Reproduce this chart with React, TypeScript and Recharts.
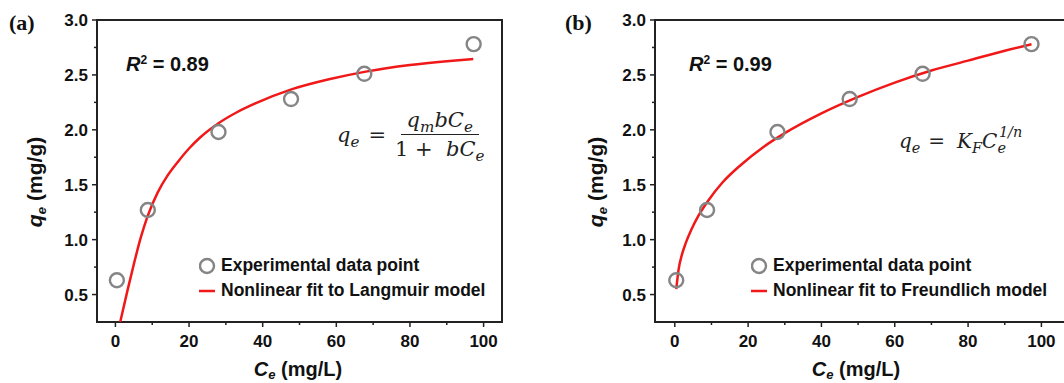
import React from "react";
import {
  ComposedChart,
  Scatter,
  Line,
  XAxis,
  YAxis,
  ReferenceArea,
} from "recharts";

// experimental points (same in both panels)
const ceExp = [0.4, 8.8, 28, 47.7, 67.6, 97.3];
const qeExp = [0.63, 1.27, 1.98, 2.28, 2.51, 2.78];

// fitted curves
const langmuirCe = [1.3, 3.3, 5.1, 6.9, 8.7, 11.5, 14.1, 17, 20, 23, 28, 33, 38, 48, 58, 68, 80, 90, 97.2];
const langmuirQe = [0.25, 0.54, 0.79, 1.02, 1.21, 1.43, 1.58, 1.71, 1.83, 1.93, 2.06, 2.16, 2.24, 2.37, 2.46, 2.53, 2.59, 2.625, 2.645];

const freundlichCe = [0.4, 1, 2, 3, 4.5, 6.5, 9, 13, 18, 24, 30, 40, 50, 60, 70, 80, 90, 97.3];
const freundlichQe = [0.55, 0.72, 0.87, 0.97, 1.09, 1.22, 1.35, 1.52, 1.68, 1.84, 1.97, 2.15, 2.3, 2.43, 2.54, 2.63, 2.72, 2.78];

const xTicks = [0, 10, 20, 30, 40, 50, 60, 70, 80, 90, 100];
const yTicks = [0.5, 0.75, 1, 1.25, 1.5, 1.75, 2, 2.25, 2.5, 2.75, 3];

const expData = ceExp.map((c, i) => ({ C: c, q: qeExp[i] }));
const langData = langmuirCe.map((c, i) => ({ C: c, q: langmuirQe[i] }));
const freData = freundlichCe.map((c, i) => ({ C: c, q: freundlichQe[i] }));

const SANS = '"Liberation Sans", Arial, sans-serif';
const SERIF_MATH = '"DejaVu Serif", "Liberation Serif", serif';
const RED = "#f01818";
const GRAY = "#858585";
const INK = "#111";

const XTick = (props: any) => {
  const { x, y, payload } = props;
  const v = payload.value;
  const major = v % 20 === 0;
  return (
    <g>
      <line x1={x} x2={x} y1={y} y2={y + (major ? 5 : 3)} stroke="#222" strokeWidth={1.5} />
      {major && (
        <text x={x} y={y + 25} textAnchor="middle" fontFamily={SANS} fontWeight="bold" fontSize={17} fill={INK}>
          {v}
        </text>
      )}
    </g>
  );
};

const YTick = (props: any) => {
  const { x, y, payload } = props;
  const v = payload.value;
  const major = Math.abs(v * 2 - Math.round(v * 2)) < 1e-6;
  return (
    <g>
      <line x1={x} x2={x - (major ? 5 : 3)} y1={y} y2={y} stroke="#222" strokeWidth={1.5} />
      {major && (
        <text x={x - 9} y={y + 6} textAnchor="end" fontFamily={SANS} fontWeight="bold" fontSize={17} fill={INK}>
          {v.toFixed(1)}
        </text>
      )}
    </g>
  );
};

const Circle = (props: any) => {
  const { cx, cy } = props;
  return <circle cx={cx} cy={cy} r={7} fill="none" stroke={GRAY} strokeWidth={2.4} />;
};

function Panel({ left, width, xDomain, curve }: { left: number; width: number; xDomain: number[]; curve: any[] }) {
  return (
    <div style={{ position: "absolute", left, top: 0 }}>
      <ComposedChart
        width={width}
        height={383}
        data={expData}
        margin={{ top: 20, right: 28, left: 0, bottom: 0 }}
      >
        <XAxis
          type="number"
          dataKey="C"
          domain={xDomain}
          allowDataOverflow
          ticks={xTicks}
          interval={0}
          tick={<XTick />}
          tickLine={false}
          tickSize={0}
          tickMargin={0}
          axisLine={false}
          height={61}
        />
        <YAxis
          type="number"
          dataKey="q"
          domain={[0.25, 3]}
          allowDataOverflow
          ticks={yTicks}
          interval={0}
          tick={<YTick />}
          tickLine={false}
          tickSize={0}
          tickMargin={0}
          axisLine={false}
          width={97}
        />
        <ReferenceArea
          x1={xDomain[0]}
          x2={xDomain[1]}
          y1={0.25}
          y2={3}
          fill="none"
          stroke="#222"
          strokeWidth={2}
          ifOverflow="visible"
        />
        <Scatter data={expData} dataKey="q" shape={<Circle />} isAnimationActive={false} />
        <Line
          data={curve}
          dataKey="q"
          type="monotone"
          stroke={RED}
          strokeWidth={2.5}
          dot={false}
          activeDot={false}
          isAnimationActive={false}
        />
      </ComposedChart>
    </div>
  );
}

const abs = (l: number, t: number, extra: React.CSSProperties = {}): React.CSSProperties => ({
  position: "absolute",
  left: l,
  top: t,
  whiteSpace: "nowrap",
  color: INK,
  ...extra,
});

const subStyle: React.CSSProperties = { fontSize: "0.65em", verticalAlign: "-0.3em", lineHeight: 0 };

function YTitle({ cx, cy }: { cx: number; cy: number }) {
  return (
    <div
      style={abs(cx, cy, {
        transform: "translate(-50%, -50%) rotate(-90deg)",
        fontFamily: SANS,
        fontWeight: "bold",
        fontSize: 21,
        lineHeight: "24px",
      })}
    >
      <i>q</i>
      <i style={subStyle}>e</i> (mg/g)
    </div>
  );
}

function XTitle({ cx }: { cx: number }) {
  return (
    <div
      style={abs(cx, 359, {
        transform: "translateX(-50%)",
        fontFamily: SANS,
        fontWeight: "bold",
        fontSize: 20,
        lineHeight: "20px",
      })}
    >
      <i>C</i>
      <i style={{ ...subStyle, verticalAlign: "-0.2em" }}>e</i> (mg/L)
    </div>
  );
}

function R2({ l, text }: { l: number; text: string }) {
  return (
    <div style={abs(l, 52, { fontFamily: SANS, fontWeight: "bold", fontSize: 20, lineHeight: "24px" })}>
      <i>R</i>
      <sup style={{ fontSize: "0.6em", verticalAlign: "0.6em", lineHeight: 0 }}>2</sup> = {text}
    </div>
  );
}

function LegendBox({ l, fitText }: { l: number; fitText: string }) {
  const row: React.CSSProperties = { display: "flex", alignItems: "center", height: 25 };
  return (
    <div style={abs(l, 253, { fontFamily: SANS, fontWeight: "bold", fontSize: 17.5 })}>
      <div style={row}>
        <svg width={22} height={20}>
          <circle cx={8} cy={10} r={7} fill="none" stroke={GRAY} strokeWidth={2.4} />
        </svg>
        <span>Experimental data point</span>
      </div>
      <div style={row}>
        <svg width={22} height={20}>
          <line x1={0} x2={16} y1={10} y2={10} stroke={RED} strokeWidth={2.5} />
        </svg>
        <span>{fitText}</span>
      </div>
    </div>
  );
}

const mathSub: React.CSSProperties = { fontSize: "0.72em", verticalAlign: "-0.35em", lineHeight: 0 };

export default function App() {
  return (
    <div style={{ position: "relative", width: 1064, height: 383, overflow: "hidden", background: "#fff" }}>
      <style>{`body{margin:0}`}</style>

      <Panel left={0} width={530} xDomain={[-5, 105]} curve={langData} />
      <Panel left={558} width={540} xDomain={[-5.4, 107.8]} curve={freData} />

      <div style={abs(9, 10, { fontFamily: '"Liberation Serif", serif', fontWeight: "bold", fontSize: 22 })}>(a)</div>
      <div style={abs(565, 10, { fontFamily: '"Liberation Serif", serif', fontWeight: "bold", fontSize: 22 })}>(b)</div>

      <YTitle cx={35} cy={182} />
      <YTitle cx={596} cy={182} />
      <XTitle cx={298} />
      <XTitle cx={856} />

      <R2 l={126} text="0.89" />
      <R2 l={689} text="0.99" />

      {/* Langmuir equation */}
      <div
        style={abs(337, 109, {
          fontFamily: SERIF_MATH,
          fontSize: 21,
          display: "flex",
          alignItems: "center",
          color: "#222",
        })}
      >
        <span style={{ fontStyle: "italic" }}>
          q<span style={mathSub}>e</span>
        </span>
        <span style={{ margin: "0 9px" }}>=</span>
        <span style={{ display: "inline-flex", flexDirection: "column", alignItems: "center" }}>
          <span
            style={{
              fontStyle: "italic",
              lineHeight: "22px",
              borderBottom: "1.5px solid #222",
              padding: "0 6px 3px",
            }}
          >
            q<span style={mathSub}>m</span>bC<span style={mathSub}>e</span>
          </span>
          <span style={{ lineHeight: "22px", marginTop: 3 }}>
            1&nbsp;+&nbsp;&nbsp;<i>bC</i>
            <i style={mathSub}>e</i>
          </span>
        </span>
      </div>

      {/* Freundlich equation */}
      <div style={abs(899, 129, { fontFamily: SERIF_MATH, fontSize: 20, lineHeight: "24px", color: "#222" })}>
        <i>q</i>
        <i style={mathSub}>e</i>
        <span style={{ margin: "0 12px 0 8px" }}>=</span>
        <i>K</i>
        <i style={mathSub}>F</i>
        <i>C</i>
        <i style={{ ...mathSub, marginRight: -7 }}>e</i>
        <i style={{ fontSize: "0.72em", verticalAlign: "0.75em", lineHeight: 0 }}>1/n</i>
      </div>

      <LegendBox l={199} fitText="Nonlinear fit to Langmuir model" />
      <LegendBox l={751} fitText="Nonlinear fit to Freundlich model" />
    </div>
  );
}
